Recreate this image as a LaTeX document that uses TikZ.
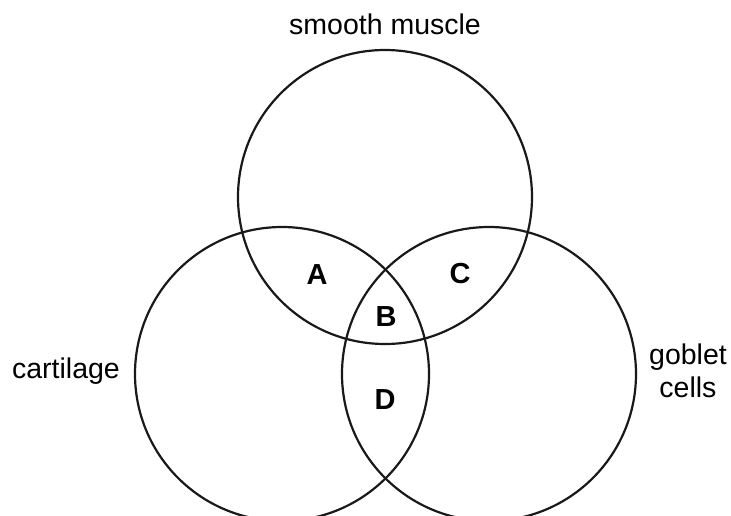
\documentclass[tikz,border=0pt]{standalone}
\usepackage{fontspec}
\setmainfont{Liberation Sans}
\usepackage{tikz}
\usetikzlibrary{positioning}

\begin{document}
\begin{tikzpicture}[
    x=1pt, y=-1pt,
    font=\fontsize{28.5}{33}\selectfont,
    setcircle/.style={circle, draw=black!90, line width=2.2pt, minimum size=294pt, inner sep=0pt},
    region/.style={font=\fontsize{29}{33}\selectfont\bfseries, inner sep=0pt},
    setlabel/.style={align=center, inner sep=0pt}
]
\useasboundingbox (0,0) rectangle (731,515);
\clip (0,0) rectangle (731,515);
% the three sets
\node[setcircle] (muscle) at (385,197) {};
\node[setcircle] (cart) at (282,374) {};
\node[setcircle] (goblet) at (489,374) {};

% set names
\node[setlabel] (musclelbl) at (385,24) {smooth muscle};
\node[setlabel] (cartlbl) at (66,371) {cartilage};
\node[setlabel] (gobletlbl) at (688,371) {goblet\\cells};

% regions
\node[region] (A) at (317,275) {A};
\node[region] (B) at (386,317) {B};
\node[region] (C) at (460,274) {C};
\node[region] (D) at (385,400) {D};
\end{tikzpicture}
\end{document}
